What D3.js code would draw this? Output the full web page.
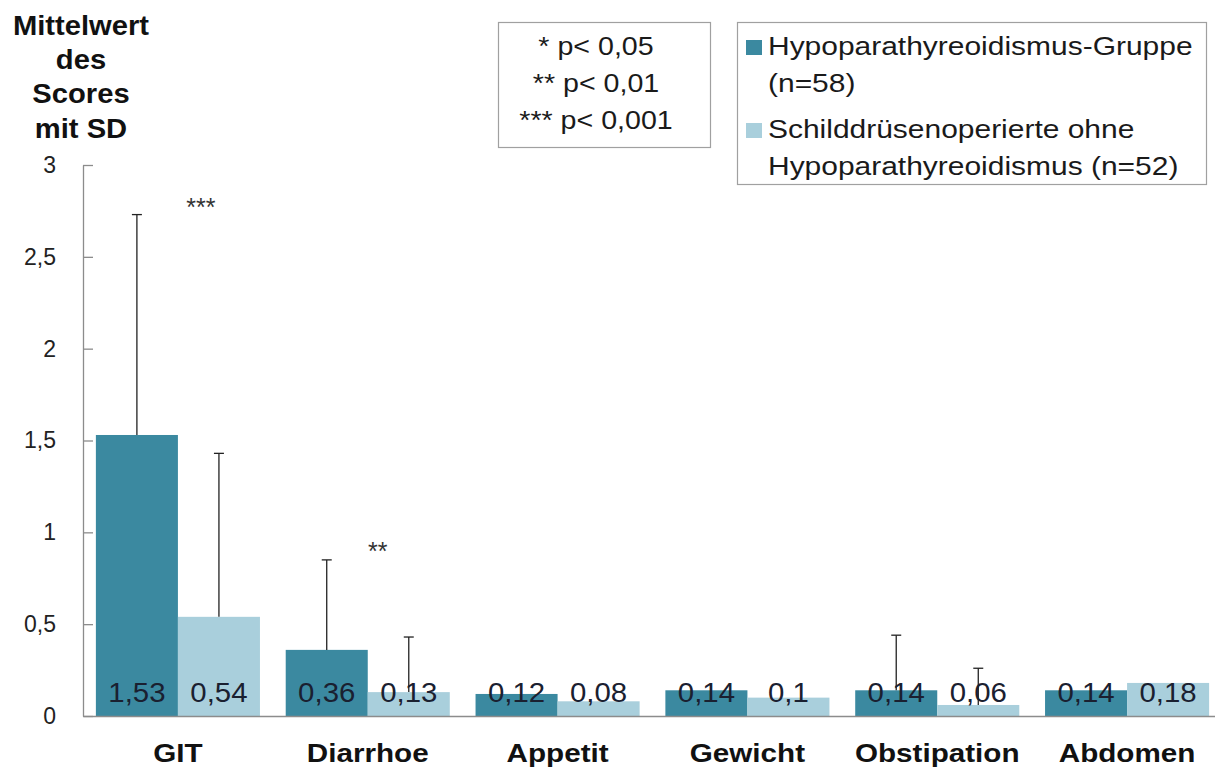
<!DOCTYPE html>
<html>
<head>
<meta charset="utf-8">
<script src="https://cdn.jsdelivr.net/npm/d3@7"></script>
<style>
  html, body { margin: 0; padding: 0; background: #fff; }
  svg { display: block; font-family: "Liberation Sans", Arial, sans-serif; }
</style>
</head>
<body>
<svg id="chart" width="1215" height="769"></svg>
<script>
// Mean scores (GIT subscales) with standard deviation
const categories = ["GIT", "Diarrhoe", "Appetit", "Gewicht", "Obstipation", "Abdomen"];
const groups = ["hypo", "ctrl"];
const hypoMeans = [1.53, 0.36, 0.12, 0.14, 0.14, 0.14];
const ctrlMeans = [0.54, 0.13, 0.08, 0.10, 0.06, 0.18];
const hypoSD = [1.20, 0.49, null, null, 0.30, null];
const ctrlSD = [0.89, 0.30, null, null, 0.20, null];
const yTicks = [0, 0.5, 1, 1.5, 2, 2.5, 3];
const significance = [
  { category: "GIT", stars: "***", y: 2.78, dx: 23 },
  { category: "Diarrhoe", stars: "**", y: 0.91, dx: 10 }
];
const pLegend = ["* p< 0,05", "** p< 0,01", "*** p< 0,001"];
const seriesLegend = [
  ["Hypoparathyreoidismus-Gruppe", "(n=58)"],
  ["Schilddrüsenoperierte ohne", "Hypoparathyreoidismus (n=52)"]
];
const yTitle = ["Mittelwert", "des", "Scores", "mit SD"];

const colors = { hypo: "#3b89a0", ctrl: "#a9cfdc" };
const axisColor = "#8c8c8c";

const svg = d3.select("#chart");
const margin = { left: 83, top: 165, bottom: 53 };
const W = 1215, H = 769;
const plotRight = 1222; // last category band runs slightly past the frame edge

const x = d3.scaleBand().domain(categories).range([margin.left, plotRight]).paddingInner(0).paddingOuter(0);
const xs = d3.scaleBand().domain(groups).range([0, x.bandwidth()]).paddingOuter(0.157).paddingInner(0);
const y = d3.scaleLinear().domain([0, 3]).range([H - margin.bottom, margin.top]);

// Text in this layout is set slightly wide; stretch horizontally around its anchor
function stretch(sel, k, ax, ay) {
  sel.attr("transform", `translate(${ax},${ay}) scale(${k},1) translate(${-ax},${-ay})`);
}

const rows = categories.map((c, i) => ({
  category: c,
  values: [
    { key: "hypo", mean: hypoMeans[i], sd: hypoSD[i] },
    { key: "ctrl", mean: ctrlMeans[i], sd: ctrlSD[i] }
  ]
}));

// Bars
const g = svg.append("g");
const grp = g.selectAll("g.cat").data(rows).join("g")
  .attr("class", "cat")
  .attr("transform", d => `translate(${x(d.category)},0)`);

grp.selectAll("rect").data(d => d.values).join("rect")
  .attr("x", d => xs(d.key))
  .attr("width", xs.bandwidth())
  .attr("y", d => y(d.mean))
  .attr("height", d => y(0) - y(d.mean))
  .attr("fill", d => colors[d.key]);

// Error bars (upper half only)
const eb = grp.selectAll("g.err").data(d => d.values.filter(v => v.sd != null)).join("g")
  .attr("class", "err")
  .attr("stroke", "#222").attr("stroke-width", 1.3);
eb.append("line")
  .attr("x1", d => xs(d.key) + xs.bandwidth() / 2)
  .attr("x2", d => xs(d.key) + xs.bandwidth() / 2)
  .attr("y1", d => y(d.mean))
  .attr("y2", d => y(d.mean + d.sd));
eb.append("line")
  .attr("x1", d => xs(d.key) + xs.bandwidth() / 2 - 5)
  .attr("x2", d => xs(d.key) + xs.bandwidth() / 2 + 5)
  .attr("y1", d => y(d.mean + d.sd))
  .attr("y2", d => y(d.mean + d.sd));

// Value labels inside bars
const fmt = v => String(v).replace(".", ",");
grp.selectAll("text.val").data(d => d.values).join("text")
  .attr("class", "val")
  .attr("x", d => xs(d.key) + xs.bandwidth() / 2)
  .attr("y", y(0) - 14)
  .attr("text-anchor", "middle")
  .attr("font-size", 28)
  .attr("fill", "#1a2030")
  .text(d => fmt(d.mean))
  .each(function (d) {
    stretch(d3.select(this), 1.05, xs(d.key) + xs.bandwidth() / 2, y(0) - 14);
  });

// Significance markers
svg.selectAll("text.sig").data(significance).join("text")
  .attr("class", "sig")
  .attr("x", d => x(d.category) + x.bandwidth() / 2 + d.dx)
  .attr("y", d => y(d.y) + 11)
  .attr("text-anchor", "middle")
  .attr("font-size", 25)
  .attr("fill", "#333")
  .text(d => d.stars);

// Y axis
const yAxis = d3.axisLeft(y).tickValues(yTicks).tickSizeInner(-10).tickSizeOuter(0)
  .tickFormat(d => fmt(d));
const ya = svg.append("g").attr("transform", `translate(${margin.left},0)`).call(yAxis);
ya.select(".domain").attr("stroke", axisColor).attr("stroke-width", 1.3);
ya.selectAll(".tick line").attr("stroke", axisColor).attr("stroke-width", 1.3);
ya.selectAll(".tick text")
  .attr("x", -27).attr("font-size", 23).attr("fill", "#222")
  .attr("font-family", "Liberation Sans, Arial, sans-serif");

// X axis baseline and category labels
const xAxis = d3.axisBottom(x).tickSize(0).tickSizeOuter(0);
const xa = svg.append("g").attr("transform", `translate(0,${y(0)})`).call(xAxis);
xa.select(".domain").attr("stroke", axisColor).attr("stroke-width", 1.5);
xa.selectAll(".tick text")
  .attr("y", 28).attr("dy", "0.71em")
  .attr("font-size", 26).attr("font-weight", "bold").attr("fill", "#111")
  .attr("font-family", "Liberation Sans, Arial, sans-serif")
  .attr("transform", "scale(1.14,1)");

// Y axis title
const yt = svg.append("text")
  .attr("text-anchor", "middle")
  .attr("font-size", 27).attr("font-weight", "bold").attr("fill", "#111");
yt.selectAll("tspan").data(yTitle).join("tspan")
  .attr("x", 81)
  .attr("y", (d, i) => 35 + i * 34.2)
  .text(d => d);
stretch(yt, 1.08, 81, 0);

// p-value box
const pb = svg.append("g");
pb.append("rect").attr("x", 498.5).attr("y", 22.5).attr("width", 212).attr("height", 125)
  .attr("fill", "#fff").attr("stroke", "#a0a0a0").attr("stroke-width", 1.2);
pb.selectAll("text").data(pLegend).join("text")
  .attr("x", 596).attr("y", (d, i) => 55 + i * 37)
  .attr("text-anchor", "middle").attr("font-size", 26).attr("fill", "#1a1a1a")
  .text(d => d)
  .each(function () { stretch(d3.select(this), 1.1, 596, 0); });

// Series legend
const lg = svg.append("g");
lg.append("rect").attr("x", 737.5).attr("y", 22.5).attr("width", 469).attr("height", 162)
  .attr("fill", "#fff").attr("stroke", "#a0a0a0").attr("stroke-width", 1.2);
const items = lg.selectAll("g.item").data(groups).join("g")
  .attr("class", "item")
  .attr("transform", (d, i) => `translate(746,${40 + i * 83})`);
items.append("rect").attr("width", 16).attr("height", 15).attr("fill", d => colors[d]);
const lt = items.append("text")
  .attr("font-size", 25.5).attr("fill", "#1a1a1a");
lt.selectAll("tspan").data((d, i) => seriesLegend[i]).join("tspan")
  .attr("x", 22).attr("y", (d, j) => 15 + j * 37)
  .text(d => d);
lt.each(function () { stretch(d3.select(this), 1.175, 22, 0); });
</script>
</body>
</html>
